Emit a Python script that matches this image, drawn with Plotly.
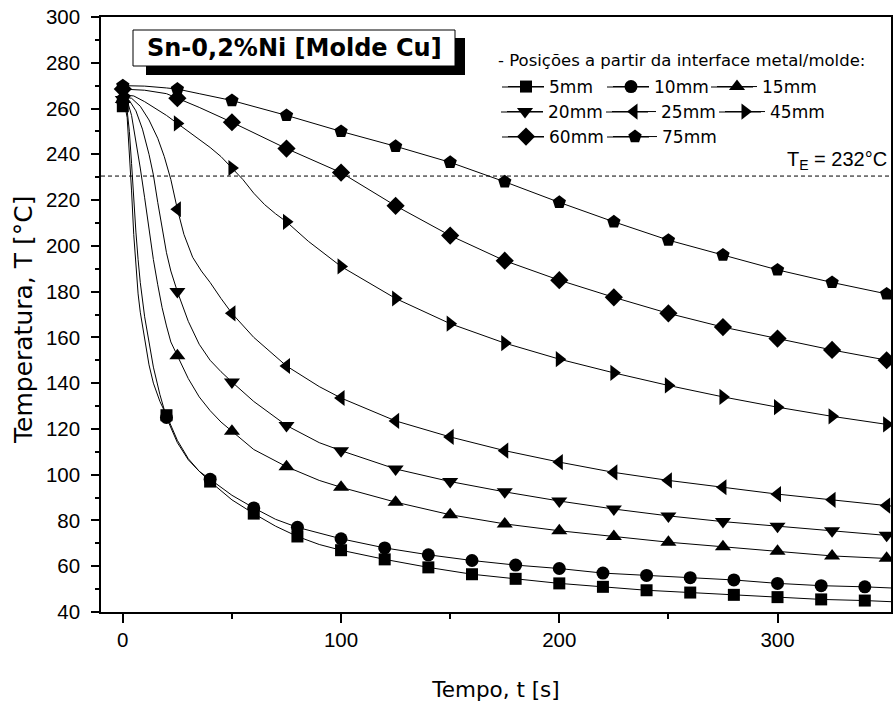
import plotly.graph_objects as go

# ---------------- data ----------------
t_m20 = [0, 20, 40, 60, 80, 100, 120, 140, 160, 180, 200, 220, 240, 260, 280, 300, 320, 340]
t_m25 = [0, 25, 50, 75, 100, 125, 150, 175, 200, 225, 250, 275, 300, 325, 350]

# marker values
T5_m = [261, 126, 97, 83, 73, 67, 63, 59.5, 56.5, 54.5, 52.5, 51, 49.5, 48.5, 47.5, 46.5, 45.5, 45]
T10_m = [263, 125, 98, 85.5, 77, 72, 68, 65, 62.5, 60.5, 59, 57, 56, 55, 54, 52.5, 51.5, 51]
T15_m = [264, 152, 119, 103.5, 94.5, 88, 82.5, 78.5, 75.5, 73, 70.5, 68.5, 66.5, 64.5, 63.5]
T20_m = [264, 180, 140.5, 121.5, 110.5, 102.5, 97, 92.5, 88.5, 85, 82, 79.5, 77.5, 75.5, 73.5]
T25_m = [265, 216, 170.5, 147.5, 133.5, 123.5, 116.5, 110.5, 105.5, 101, 97.5, 94.5, 91.5, 89, 86.5]
T45_m = [266, 253.5, 234, 210.5, 191, 177, 166, 157.5, 150.5, 144.5, 139, 134, 129.5, 125.5, 122]
T60_m = [268.5, 264.5, 254, 242.5, 232, 217.5, 204.5, 193.5, 185, 177.5, 170.5, 164.5, 159.5, 154.5, 150]
T75_m = [270, 268.5, 263.5, 257, 250, 243.5, 236.5, 228, 219, 210.5, 202.5, 196, 189.5, 184, 179]

# line values (thermocouple readings)
t5_l = [0, 1, 2, 3, 4, 5, 6, 7, 8, 10, 12, 14, 17, 20, 25, 30, 35, 40, 50, 60, 70, 80, 90, 100,
        120, 140, 160, 180, 200, 220, 240, 260, 280, 300, 320, 340, 352]
T5_l = [261, 261, 256, 242, 224, 205, 190, 179, 171, 159, 148, 140, 132, 126, 115, 107, 101.5, 97, 89, 83, 77.5, 73, 69.5, 67,
        63, 59.5, 56.5, 54.5, 52.5, 51, 49.5, 48.5, 47.5, 46.5, 45.5, 45, 44.5]
t10_l = [0, 1, 2, 3, 4, 5, 6, 7, 8, 10, 12, 14, 17, 20, 25, 30, 35, 40, 50, 60, 70, 80, 90, 100,
         120, 140, 160, 180, 200, 220, 240, 260, 280, 300, 320, 340, 352]
T10_l = [263, 263, 259, 250, 236, 220, 206, 194, 184, 169, 157, 147, 135, 125, 114, 106.5, 101.5, 98, 91, 85.5, 80.5, 77, 74.5, 72,
         68, 65, 62.5, 60.5, 59, 57, 56, 55, 54, 52.5, 51.5, 51, 50.5]
t15_l = [0, 2, 4, 6, 8, 10, 12, 14, 16, 18, 20, 22, 25, 30, 35, 40, 45, 50, 60, 75, 90, 100,
         125, 150, 175, 200, 225, 250, 275, 300, 325, 352]
T15_l = [264, 263.5, 257, 246, 234, 221, 207, 194, 183, 173, 165, 158, 152, 142, 134, 128, 123, 119, 111, 103.5, 97.5, 94.5,
         88, 82.5, 78.5, 75.5, 73, 70.5, 68.5, 66.5, 64.5, 63.3]
t20_l = [0, 3, 6, 9, 12, 14, 16, 18, 20, 22, 25, 30, 35, 40, 45, 50, 60, 75, 90, 100,
         125, 150, 175, 200, 225, 250, 275, 300, 325, 352]
T20_l = [264, 263.5, 259, 251, 240, 231, 219, 207, 197, 189, 180, 167, 157, 150, 145, 140.5, 132, 121.5, 114, 110.5,
         102.5, 97, 92.5, 88.5, 85, 82, 79.5, 77.5, 75.5, 73.3]
t25_l = [0, 4, 8, 12, 16, 19, 22, 25, 28, 32, 36, 40, 45, 50, 60, 75, 90, 100,
         125, 150, 175, 200, 225, 250, 275, 300, 325, 352]
T25_l = [265, 264.5, 261, 255, 247, 239, 229, 216, 205, 195, 189, 184, 177, 170.5, 160, 147.5, 138.5, 133.5,
         123.5, 116.5, 110.5, 105.5, 101, 97.5, 94.5, 91.5, 89, 86.3]
t45_l = [0, 5, 10, 15, 20, 25, 30, 35, 40, 45, 50, 55, 60, 65, 70, 75, 85, 100,
         125, 150, 175, 200, 225, 250, 275, 300, 325, 352]
T45_l = [266, 265.5, 263, 260, 257, 253.5, 250, 246.5, 243, 239, 234, 229, 223, 218, 214, 210.5, 202, 191,
         177, 166, 157.5, 150.5, 144.5, 139, 134, 129.5, 125.5, 121.7]
t60_l = [0, 10, 20, 25, 35, 50, 75, 100, 125, 150, 175, 200, 225, 250, 275, 300, 325, 352]
T60_l = [268.5, 268, 266.5, 264.5, 260.5, 254, 242.5, 232, 217.5, 204.5, 193.5, 185, 177.5, 170.5, 164.5, 159.5, 154.5, 149.7]
t75_l = [0, 10, 20, 25, 35, 50, 75, 100, 125, 150, 175, 200, 225, 250, 275, 300, 325, 352]
T75_l = [270, 269.8, 269, 268.5, 266.5, 263.5, 257, 250, 243.5, 236.5, 228, 219, 210.5, 202.5, 196, 189.5, 184, 178.6]

labels = ["5mm", "10mm", "15mm", "20mm", "25mm", "45mm", "60mm", "75mm"]
symbols = ["square", "circle", "triangle-up", "triangle-down", "triangle-left", "triangle-right", "diamond", "pentagon"]
sizes = [12, 13, 14, 14, 14, 14, 14, 14]
TE_value = 232
TE_line = 230.5

series = [
    (t5_l, T5_l, t_m20, T5_m),
    (t10_l, T10_l, t_m20, T10_m),
    (t15_l, T15_l, t_m25, T15_m),
    (t20_l, T20_l, t_m25, T20_m),
    (t25_l, T25_l, t_m25, T25_m),
    (t45_l, T45_l, t_m25, T45_m),
    (t60_l, T60_l, t_m25, T60_m),
    (t75_l, T75_l, t_m25, T75_m),
]

# ---------------- geometry helpers ----------------
W, H = 893, 702
L, R, TOP, BOT = 101, 891, 17, 612


def px(x):
    return (x - L) / (R - L)


def py(y):
    return (BOT - y) / (BOT - TOP)


fig = go.Figure()

for (tl, Tl, tm, Tm), lab, sym, sz in zip(series, labels, symbols, sizes):
    fig.add_trace(go.Scatter(x=tl, y=Tl, mode="lines", line=dict(color="black", width=1),
                             showlegend=False, hoverinfo="skip"))
    fig.add_trace(go.Scatter(x=tm, y=Tm, mode="markers",
                             marker=dict(symbol=sym, size=sz, color="black", line=dict(width=0)),
                             showlegend=False, name=lab))

# legend entries: (marker centre x, row y, gap marker->text)
legend_pos = [(523, 87, 26), (628, 87, 26), (732, 87, 30),
              (522, 112, 26), (627, 112, 34), (740, 112, 30),
              (523, 137, 26), (628, 137, 34)]
leg_font = dict(family="DejaVu Sans", size=17, color="black")
layout_legends = {}
shapes = []
for i, (lab, sym, sz) in enumerate(zip(labels, symbols, sizes)):
    key = "legend" if i == 0 else f"legend{i+1}"
    fig.add_trace(go.Scatter(x=[None], y=[None], mode="lines+markers", name=lab,
                             line=dict(color="black", width=1),
                             marker=dict(symbol=sym, size=sz, color="black"),
                             legend=key, showlegend=True))
    mx, ly, gap = legend_pos[i]
    layout_legends[key] = dict(x=px(mx - 20), y=py(ly), xanchor="left", yanchor="middle",
                               bgcolor="rgba(0,0,0,0)", borderwidth=0, font=leg_font,
                               itemwidth=gap + 10, tracegroupgap=0)
    # longer legend line, as in the reference
    shapes.append(dict(type="line", xref="paper", yref="paper", x0=px(mx - 21), x1=px(mx + 21),
                       y0=py(ly), y1=py(ly), line=dict(color="black", width=1)))

shapes += [
    # title box shadow and box
    dict(type="rect", xref="paper", yref="paper", x0=px(146), x1=px(465), y0=py(75), y1=py(38),
         fillcolor="black", line=dict(width=0)),
    dict(type="rect", xref="paper", yref="paper", x0=px(133), x1=px(455), y0=py(66), y1=py(30),
         fillcolor="white", line=dict(color="black", width=1)),
    # eutectic temperature line
    dict(type="line", xref="paper", yref="y", x0=0, x1=1, y0=TE_line, y1=TE_line,
         line=dict(color="black", width=1, dash="4px,3px"), layer="below"),
]

annotations = [
    dict(text="<b>Sn-0,2%Ni [Molde Cu]</b>", xref="paper", yref="paper", x=px(294), y=py(48),
         showarrow=False, font=dict(family="DejaVu Sans", size=24, color="black"),
         xanchor="center", yanchor="middle"),
    dict(text="- Posições a partir da interface metal/molde:", xref="paper", yref="paper",
         x=px(496), y=py(61), showarrow=False, xanchor="left", yanchor="middle",
         font=dict(family="DejaVu Sans", size=16.5, color="black")),
    dict(text=f"T<sub>E</sub> = {TE_value}°C", xref="paper", yref="paper", x=px(889), y=py(160),
         showarrow=False, xanchor="right", yanchor="middle",
         font=dict(family="Liberation Sans, Arial", size=20, color="black")),
    # y axis title
    dict(text="Temperatura, T [°C]", xref="paper", yref="paper", x=px(23), y=py(320),
         showarrow=False, textangle=-90, xanchor="center", yanchor="middle",
         font=dict(family="DejaVu Sans", size=25, color="black")),
]

axis_common = dict(showline=True, linecolor="black", linewidth=1.5, mirror=True, showgrid=False,
                   zeroline=False, ticks="outside", tickcolor="black", tickwidth=1.5,
                   tickfont=dict(family="Liberation Sans, Arial", size=20.5, color="black"))

fig.update_layout(
    width=W, height=H,
    margin=dict(l=L, r=W - R, t=TOP, b=H - BOT, autoexpand=False),
    plot_bgcolor="white", paper_bgcolor="white",
    shapes=shapes, annotations=annotations,
    xaxis=dict(range=[-10, 352], tickvals=[0, 100, 200, 300], ticklen=9,
               minor=dict(tickvals=[50, 150, 250], ticks="outside", ticklen=5, tickwidth=1.5, tickcolor="black"),
               title=dict(text="Tempo, t [s]", font=dict(family="DejaVu Sans", size=21.5, color="black"), standoff=33),
               automargin=False, **axis_common),
    yaxis=dict(range=[40, 300], dtick=20, tick0=40, ticklen=8, ticklabelstandoff=7,
               minor=dict(dtick=10, ticks="outside", ticklen=4, tickwidth=1.5, tickcolor="black"),
               automargin=False, **axis_common),
    **layout_legends,
)

fig.write_html("out.html")
